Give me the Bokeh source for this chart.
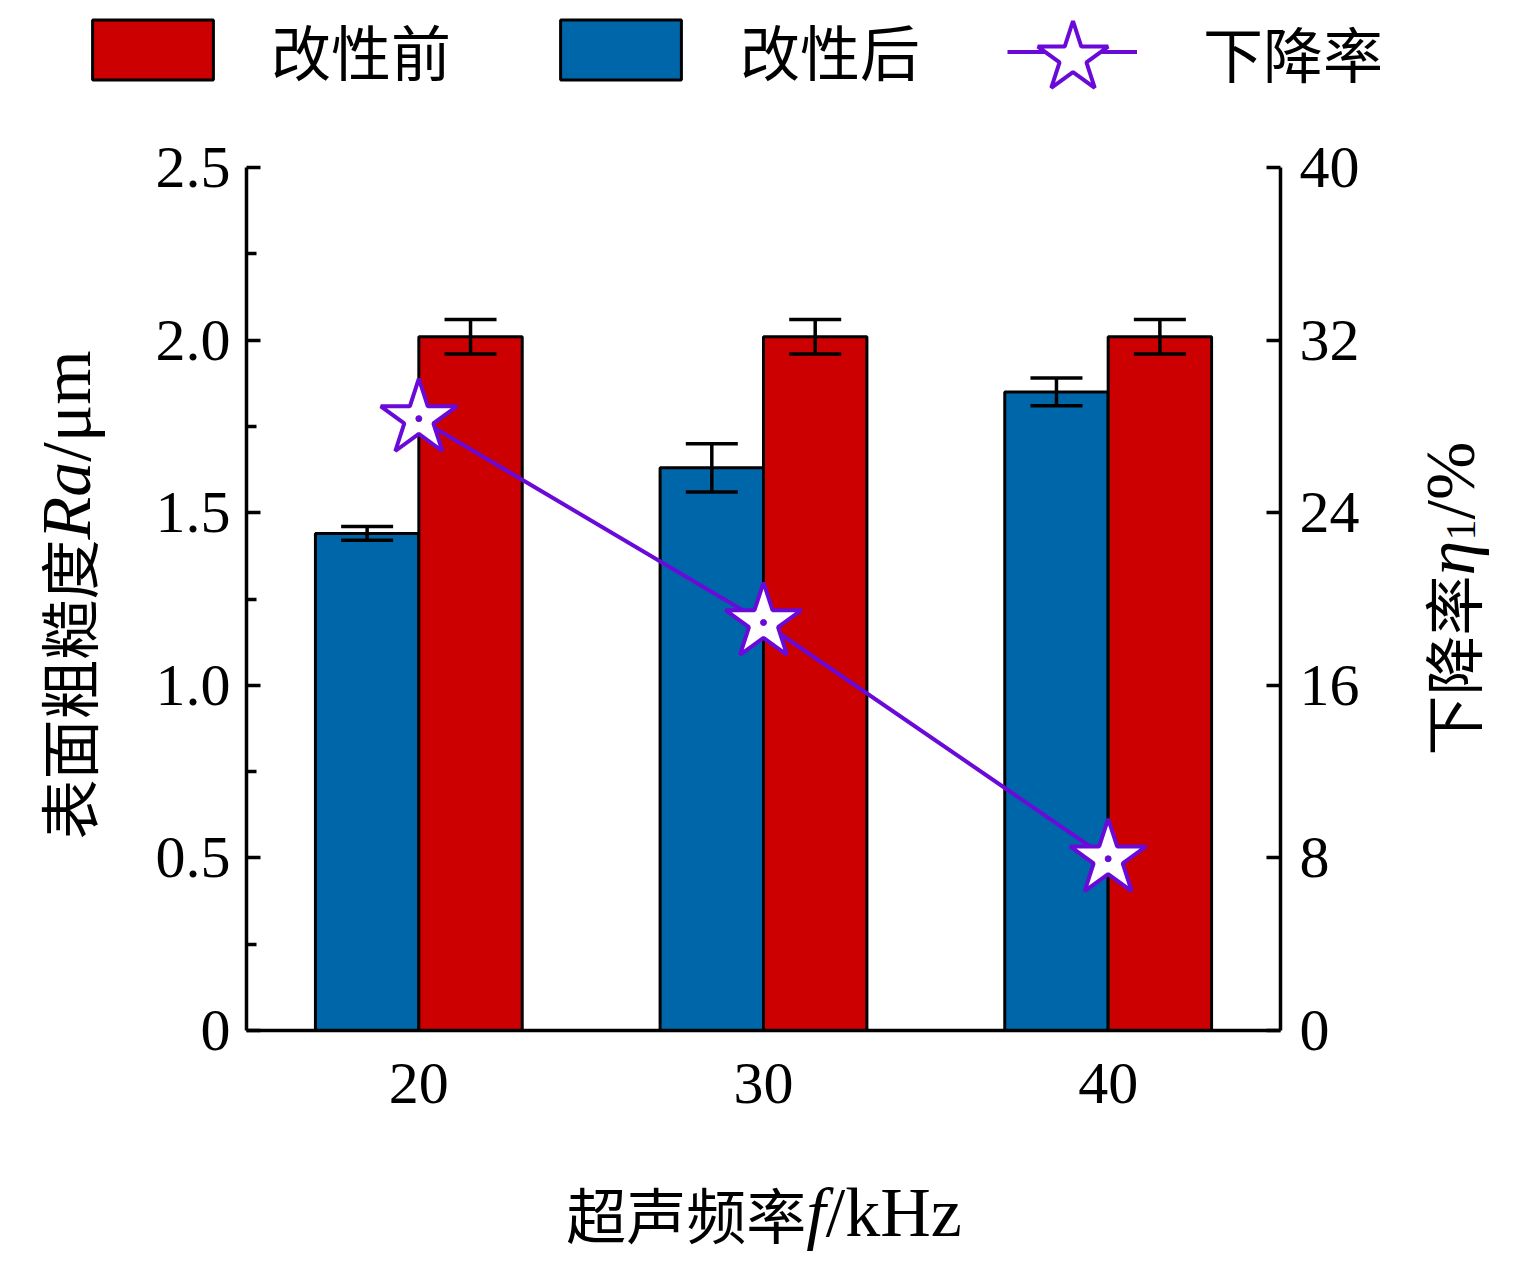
import math
from bokeh.plotting import figure
from bokeh.models import (Range1d, LinearAxis, FixedTicker, ColumnDataSource, Whisker, TeeHead,
                          Legend, LegendItem, Label, CustomJSTickFormatter)
from bokeh.transform import dodge
from bokeh.embed import file_html
from bokeh.resources import INLINE

# ---------------- data ----------------
freq = [20, 30, 40]
before = [2.01, 2.01, 2.01]
before_err = [0.05, 0.05, 0.05]
after = [1.44, 1.63, 1.85]
after_err = [0.02, 0.07, 0.04]
drop_rate = [28.36, 18.91, 7.96]

x_ticks = [20, 30, 40]
y_ticks = [0, 0.5, 1.0, 1.5, 2.0, 2.5]
y_minor = [0.25, 0.75, 1.25, 1.75, 2.25]
y2_ticks = [0, 8, 16, 24, 32, 40]

legend_labels = ["改性前", "改性后", "下降率"]

RED = "#CC0000"
BLUE = "#0066AA"
PURPLE = "#6A0AD8"
SERIF = "Liberation Serif"
CJK = "Noto Sans CJK SC"

BAR_W = 3.0
OFF = 1.5

# ---------------- layout (pixels) ----------------
W, H = 1536, 1266
PL, PR, PT, PB = 246, 1280, 167, 1030      # plot area edges on the canvas
X0, X1 = 15.0, 45.0
Y0, Y1 = 0.0, 2.5
Y2_0, Y2_1 = 0.0, 40.0

sx = (PR - PL) / (X1 - X0)
sy = (PB - PT) / (Y1 - Y0)
xr = Range1d(X0 - PL / sx, X1 + (W - PR) / sx)
yr = Range1d(Y0 - (H - PB) / sy, Y1 + PT / sy)
k2 = (Y2_1 - Y2_0) / (Y1 - Y0)
yr2 = Range1d(yr.start * k2, yr.end * k2)

src = ColumnDataSource(dict(
    freq=freq, before=before, after=after, rate=drop_rate,
    b_base=[f + OFF for f in freq],
    b_up=[v + e for v, e in zip(before, before_err)],
    b_lo=[v - e for v, e in zip(before, before_err)],
    a_base=[f - OFF for f in freq],
    a_up=[v + e for v, e in zip(after, after_err)],
    a_lo=[v - e for v, e in zip(after, after_err)],
))

p = figure(width=W, height=H, x_range=xr, y_range=yr,
           x_axis_location=None, y_axis_location=None,
           output_backend="svg", toolbar_location=None,
           min_border=0, min_border_left=0, min_border_right=0,
           min_border_top=0, min_border_bottom=0,
           background_fill_color="white", border_fill_color="white",
           outline_line_color=None)
p.xgrid.visible = False
p.ygrid.visible = False
p.extra_y_ranges = {"pct": yr2}


def style_axis(ax, tick_in, minor_in, standoff):
    ax.axis_line_width = 3.5
    ax.axis_line_color = "black"
    ax.major_tick_line_width = 3.5
    ax.minor_tick_line_width = 3.5
    ax.major_tick_in = tick_in
    ax.major_tick_out = 0
    ax.minor_tick_in = minor_in
    ax.minor_tick_out = 0
    ax.major_label_text_font = SERIF
    ax.major_label_text_font_size = "60px"
    ax.major_label_text_color = "black"
    ax.major_label_standoff = standoff


bottom = LinearAxis(ticker=FixedTicker(ticks=x_ticks, minor_ticks=[]),
                    fixed_location=Y0, bounds=(X0, X1))
style_axis(bottom, 0, 0, 33)
p.add_layout(bottom, "below")

left = LinearAxis(ticker=FixedTicker(ticks=y_ticks, minor_ticks=y_minor),
                  formatter=CustomJSTickFormatter(code="return tick == 0 ? '0' : tick.toFixed(1);"),
                  fixed_location=X0, bounds=(Y0, Y1))
style_axis(left, 14, 10, 16)
p.add_layout(left, "left")

right = LinearAxis(y_range_name="pct", ticker=FixedTicker(ticks=y2_ticks, minor_ticks=[]),
                   fixed_location=X1, bounds=(Y2_0, Y2_1))
style_axis(right, 14, 0, 19)
p.add_layout(right, "right")

# ---------------- bars ----------------
r_after = p.vbar(x=dodge("freq", -OFF), top="after", bottom=0, width=BAR_W, source=src,
                 fill_color=BLUE, line_color="black", line_width=3)
r_before = p.vbar(x=dodge("freq", OFF), top="before", bottom=0, width=BAR_W, source=src,
                  fill_color=RED, line_color="black", line_width=3)

for base, up, lo in (("a_base", "a_up", "a_lo"), ("b_base", "b_up", "b_lo")):
    w = Whisker(source=src, base=base, upper=up, lower=lo, line_width=3.5, line_color="black",
                upper_head=TeeHead(size=52, line_width=3.5, line_color="black"),
                lower_head=TeeHead(size=52, line_width=3.5, line_color="black"),
                level="overlay")
    p.add_layout(w)

# ---------------- line ----------------
r_line = p.line(x="freq", y="rate", source=src, y_range_name="pct",
                line_color=PURPLE, line_width=4)
r_star = p.scatter(x="freq", y="rate", source=src, y_range_name="pct", marker="star",
                   size=80, fill_color="white", line_color=PURPLE, line_width=4)
p.scatter(x="freq", y="rate", source=src, y_range_name="pct", marker="circle",
          size=6, fill_color=PURPLE, line_color=PURPLE)


# ---------------- legends ----------------
def add_legend(item, gw, gh, page_left, page_bottom, standoff):
    lg = Legend(items=[item], location=(page_left, H - page_bottom),
                orientation="horizontal", glyph_width=gw, glyph_height=gh,
                label_standoff=standoff, padding=0, margin=0, spacing=0,
                border_line_color=None, background_fill_alpha=0,
                label_text_font=CJK, label_text_font_size="60px",
                label_text_color="black", label_height=gh)
    p.add_layout(lg, "center")


add_legend(LegendItem(label=legend_labels[0], renderers=[r_before]), 151, 75, 77, 92.5, 43)
add_legend(LegendItem(label=legend_labels[1], renderers=[r_after]), 151, 75, 545, 92.5, 44)
add_legend(LegendItem(label=legend_labels[2], renderers=[r_line]), 130, 75, 1007, 94.5, 66)
add_legend(LegendItem(label=" ", renderers=[r_star]), 185, 185, 1072 - 92.5, 57 + 92.5, 0)


# ---------------- axis titles (composed) ----------------
def add_text(text, x, y, size, font, style="normal", angle=0.0):
    p.add_layout(Label(x=x, y=y, x_units="screen", y_units="screen", text=text,
                       text_font=font, text_font_size=f"{size}px", text_font_style=style,
                       text_align="left", text_baseline="alphabetic", angle=angle,
                       text_color="black"))


def compose(parts, center, fixed, vertical):
    total = sum(part[4] for part in parts)
    pos = center - total / 2
    for part in parts:
        text, font, size, style, w = part[:5]
        shift = part[5] if len(part) > 5 else 0
        if vertical:
            add_text(text, fixed + shift, pos, size, font, style, math.pi / 2)
        else:
            add_text(text, pos, fixed - shift, size, font, style)
        pos += w


# x title: 超声频率f/kHz
compose([("超声频率", CJK, 60, "normal", 240),
         ("f", SERIF, 70, "italic", 0.278 * 70),
         ("/kHz", SERIF, 70, "normal", 1.944 * 70)],
        763.5, H - 1212, False)

# left title: 表面粗糙度Ra/μm
compose([("表面粗糙度", CJK, 60, "normal", 300),
         ("Ra", SERIF, 70, "italic", 1.111 * 70),
         ("/μm", SERIF, 70, "normal", 1.632 * 70)],
        H - 593, 66, True)

# right title: 下降率η1/%
compose([("下降率", CJK, 60, "normal", 180),
         ("η", SERIF, 70, "italic", 0.5 * 70),
         ("1", SERIF, 42, "normal", 0.5 * 42, 10),
         ("/%", SERIF, 70, "normal", 1.111 * 70)],
        H - 598, 1450, True)

open("out.html", "w").write(file_html(p, INLINE))
